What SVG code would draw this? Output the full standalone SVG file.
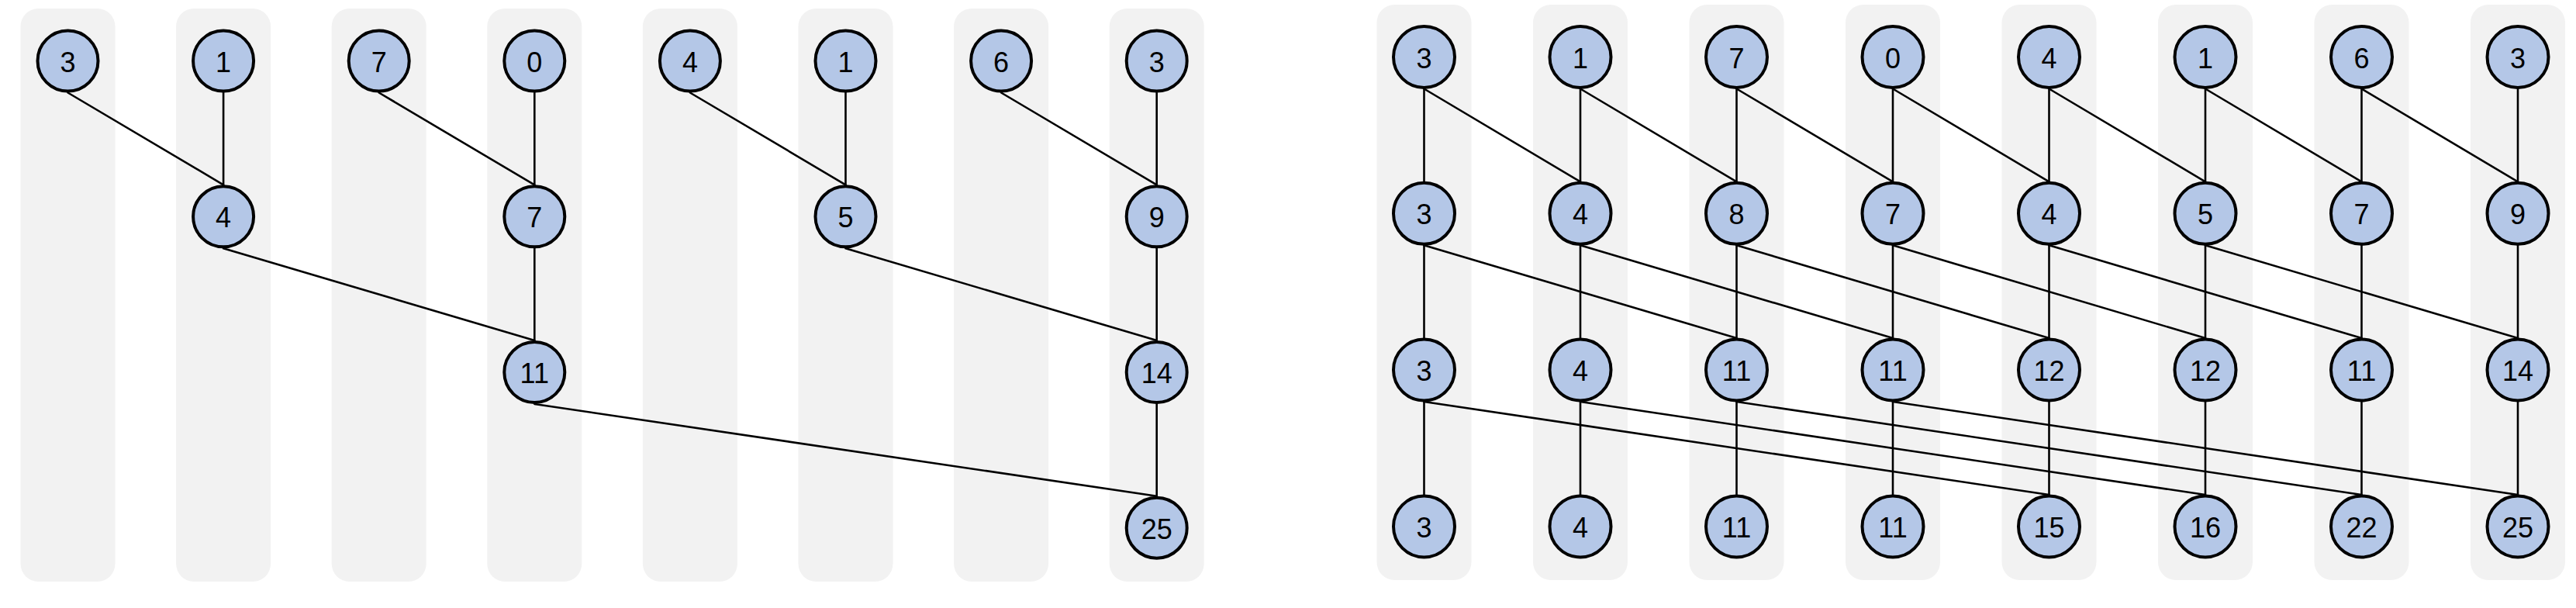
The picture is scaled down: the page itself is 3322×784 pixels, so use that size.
<svg xmlns="http://www.w3.org/2000/svg" width="3322" height="784" viewBox="0 0 3322 784">
<style>
.lane{fill:#F2F2F2;stroke:none}
.node circle{fill:#B4C7E7;stroke:#000;stroke-width:4}
.node text{font-family:"Liberation Sans",Arial,sans-serif;font-size:36px;fill:#000;text-anchor:middle}
.edges line{stroke:#000;stroke-width:2.6;stroke-linecap:round}
</style>
<rect width="3322" height="784" fill="#fff"/>
<g id="lanes">
<rect class="lane" x="26.5" y="11" width="122" height="739" rx="23"/>
<rect class="lane" x="227.1" y="11" width="122" height="739" rx="23"/>
<rect class="lane" x="427.7" y="11" width="122" height="739" rx="23"/>
<rect class="lane" x="628.3" y="11" width="122" height="739" rx="23"/>
<rect class="lane" x="828.9" y="11" width="122" height="739" rx="23"/>
<rect class="lane" x="1029.5" y="11" width="122" height="739" rx="23"/>
<rect class="lane" x="1230.1" y="11" width="122" height="739" rx="23"/>
<rect class="lane" x="1430.7" y="11" width="122" height="739" rx="23"/>
<rect class="lane" x="1775.5" y="6" width="122" height="742" rx="23"/>
<rect class="lane" x="1977" y="6" width="122" height="742" rx="23"/>
<rect class="lane" x="2178.5" y="6" width="122" height="742" rx="23"/>
<rect class="lane" x="2380" y="6" width="122" height="742" rx="23"/>
<rect class="lane" x="2581.5" y="6" width="122" height="742" rx="23"/>
<rect class="lane" x="2783" y="6" width="122" height="742" rx="23"/>
<rect class="lane" x="2984.5" y="6" width="122" height="742" rx="23"/>
<rect class="lane" x="3186" y="6" width="122" height="742" rx="23"/>
</g>
<g id="connectors" class="edges">
<!-- left: row1 -> row2 -->
<line x1="87.5" y1="119.5" x2="288.1" y2="238.3"/>
<line x1="288.1" y1="119.5" x2="288.1" y2="238.3"/>
<line x1="488.7" y1="119.5" x2="689.3" y2="238.3"/>
<line x1="689.3" y1="119.5" x2="689.3" y2="238.3"/>
<line x1="889.9" y1="119.5" x2="1090.5" y2="238.3"/>
<line x1="1090.5" y1="119.5" x2="1090.5" y2="238.3"/>
<line x1="1291.1" y1="119.5" x2="1491.7" y2="238.3"/>
<line x1="1491.7" y1="119.5" x2="1491.7" y2="238.3"/>
<!-- left: row2 -> row3 -->
<line x1="288.1" y1="320.3" x2="689.3" y2="439"/>
<line x1="689.3" y1="320.3" x2="689.3" y2="439"/>
<line x1="1090.5" y1="320.3" x2="1491.7" y2="439"/>
<line x1="1491.7" y1="320.3" x2="1491.7" y2="439"/>
<!-- left: row3 -> row4 -->
<line x1="689.3" y1="521" x2="1491.7" y2="639.7"/>
<line x1="1491.7" y1="521" x2="1491.7" y2="639.7"/>
<!-- right: row1 -> row2 -->
<line x1="1836.5" y1="114.5" x2="1836.5" y2="234.3"/>
<line x1="2038" y1="114.5" x2="2038" y2="234.3"/>
<line x1="2239.5" y1="114.5" x2="2239.5" y2="234.3"/>
<line x1="2441" y1="114.5" x2="2441" y2="234.3"/>
<line x1="2642.5" y1="114.5" x2="2642.5" y2="234.3"/>
<line x1="2844" y1="114.5" x2="2844" y2="234.3"/>
<line x1="3045.5" y1="114.5" x2="3045.5" y2="234.3"/>
<line x1="3247" y1="114.5" x2="3247" y2="234.3"/>
<line x1="1836.5" y1="114.5" x2="2038" y2="234.3"/>
<line x1="2038" y1="114.5" x2="2239.5" y2="234.3"/>
<line x1="2239.5" y1="114.5" x2="2441" y2="234.3"/>
<line x1="2441" y1="114.5" x2="2642.5" y2="234.3"/>
<line x1="2642.5" y1="114.5" x2="2844" y2="234.3"/>
<line x1="2844" y1="114.5" x2="3045.5" y2="234.3"/>
<line x1="3045.5" y1="114.5" x2="3247" y2="234.3"/>
<!-- right: row2 -> row3 -->
<line x1="1836.5" y1="316.3" x2="1836.5" y2="436"/>
<line x1="2038" y1="316.3" x2="2038" y2="436"/>
<line x1="2239.5" y1="316.3" x2="2239.5" y2="436"/>
<line x1="2441" y1="316.3" x2="2441" y2="436"/>
<line x1="2642.5" y1="316.3" x2="2642.5" y2="436"/>
<line x1="2844" y1="316.3" x2="2844" y2="436"/>
<line x1="3045.5" y1="316.3" x2="3045.5" y2="436"/>
<line x1="3247" y1="316.3" x2="3247" y2="436"/>
<line x1="1836.5" y1="316.3" x2="2239.5" y2="436"/>
<line x1="2038" y1="316.3" x2="2441" y2="436"/>
<line x1="2239.5" y1="316.3" x2="2642.5" y2="436"/>
<line x1="2441" y1="316.3" x2="2844" y2="436"/>
<line x1="2642.5" y1="316.3" x2="3045.5" y2="436"/>
<line x1="2844" y1="316.3" x2="3247" y2="436"/>
<!-- right: row3 -> row4 -->
<line x1="1836.5" y1="518" x2="1836.5" y2="638"/>
<line x1="2038" y1="518" x2="2038" y2="638"/>
<line x1="2239.5" y1="518" x2="2239.5" y2="638"/>
<line x1="2441" y1="518" x2="2441" y2="638"/>
<line x1="2642.5" y1="518" x2="2642.5" y2="638"/>
<line x1="2844" y1="518" x2="2844" y2="638"/>
<line x1="3045.5" y1="518" x2="3045.5" y2="638"/>
<line x1="3247" y1="518" x2="3247" y2="638"/>
<line x1="1836.5" y1="518" x2="2642.5" y2="638"/>
<line x1="2038" y1="518" x2="2844" y2="638"/>
<line x1="2239.5" y1="518" x2="3045.5" y2="638"/>
<line x1="2441" y1="518" x2="3247" y2="638"/>
</g>
<!-- left diagram nodes -->
<g id="L-r1-0" class="node"><circle cx="87.5" cy="78.5" r="39"/><text x="87.5" y="92.5">3</text></g>
<g id="L-r1-1" class="node"><circle cx="288.1" cy="78.5" r="39"/><text x="288.1" y="92.5">1</text></g>
<g id="L-r1-2" class="node"><circle cx="488.7" cy="78.5" r="39"/><text x="488.7" y="92.5">7</text></g>
<g id="L-r1-3" class="node"><circle cx="689.3" cy="78.5" r="39"/><text x="689.3" y="92.5">0</text></g>
<g id="L-r1-4" class="node"><circle cx="889.9" cy="78.5" r="39"/><text x="889.9" y="92.5">4</text></g>
<g id="L-r1-5" class="node"><circle cx="1090.5" cy="78.5" r="39"/><text x="1090.5" y="92.5">1</text></g>
<g id="L-r1-6" class="node"><circle cx="1291.1" cy="78.5" r="39"/><text x="1291.1" y="92.5">6</text></g>
<g id="L-r1-7" class="node"><circle cx="1491.7" cy="78.5" r="39"/><text x="1491.7" y="92.5">3</text></g>
<g id="L-r2-1" class="node"><circle cx="288.1" cy="279.3" r="39"/><text x="288.1" y="293.3">4</text></g>
<g id="L-r2-3" class="node"><circle cx="689.3" cy="279.3" r="39"/><text x="689.3" y="293.3">7</text></g>
<g id="L-r2-5" class="node"><circle cx="1090.5" cy="279.3" r="39"/><text x="1090.5" y="293.3">5</text></g>
<g id="L-r2-7" class="node"><circle cx="1491.7" cy="279.3" r="39"/><text x="1491.7" y="293.3">9</text></g>
<g id="L-r3-3" class="node"><circle cx="689.3" cy="480" r="39"/><text x="689.3" y="494">11</text></g>
<g id="L-r3-7" class="node"><circle cx="1491.7" cy="480" r="39"/><text x="1491.7" y="494">14</text></g>
<g id="L-r4-7" class="node"><circle cx="1491.7" cy="680.7" r="39"/><text x="1491.7" y="694.7">25</text></g>
<!-- right diagram nodes -->
<g id="R-r1-0" class="node"><circle cx="1836.5" cy="73.5" r="39.5"/><text x="1836.5" y="87.5">3</text></g>
<g id="R-r1-1" class="node"><circle cx="2038" cy="73.5" r="39.5"/><text x="2038" y="87.5">1</text></g>
<g id="R-r1-2" class="node"><circle cx="2239.5" cy="73.5" r="39.5"/><text x="2239.5" y="87.5">7</text></g>
<g id="R-r1-3" class="node"><circle cx="2441" cy="73.5" r="39.5"/><text x="2441" y="87.5">0</text></g>
<g id="R-r1-4" class="node"><circle cx="2642.5" cy="73.5" r="39.5"/><text x="2642.5" y="87.5">4</text></g>
<g id="R-r1-5" class="node"><circle cx="2844" cy="73.5" r="39.5"/><text x="2844" y="87.5">1</text></g>
<g id="R-r1-6" class="node"><circle cx="3045.5" cy="73.5" r="39.5"/><text x="3045.5" y="87.5">6</text></g>
<g id="R-r1-7" class="node"><circle cx="3247" cy="73.5" r="39.5"/><text x="3247" y="87.5">3</text></g>
<g id="R-r2-0" class="node"><circle cx="1836.5" cy="275.3" r="39.5"/><text x="1836.5" y="289.3">3</text></g>
<g id="R-r2-1" class="node"><circle cx="2038" cy="275.3" r="39.5"/><text x="2038" y="289.3">4</text></g>
<g id="R-r2-2" class="node"><circle cx="2239.5" cy="275.3" r="39.5"/><text x="2239.5" y="289.3">8</text></g>
<g id="R-r2-3" class="node"><circle cx="2441" cy="275.3" r="39.5"/><text x="2441" y="289.3">7</text></g>
<g id="R-r2-4" class="node"><circle cx="2642.5" cy="275.3" r="39.5"/><text x="2642.5" y="289.3">4</text></g>
<g id="R-r2-5" class="node"><circle cx="2844" cy="275.3" r="39.5"/><text x="2844" y="289.3">5</text></g>
<g id="R-r2-6" class="node"><circle cx="3045.5" cy="275.3" r="39.5"/><text x="3045.5" y="289.3">7</text></g>
<g id="R-r2-7" class="node"><circle cx="3247" cy="275.3" r="39.5"/><text x="3247" y="289.3">9</text></g>
<g id="R-r3-0" class="node"><circle cx="1836.5" cy="477" r="39.5"/><text x="1836.5" y="491">3</text></g>
<g id="R-r3-1" class="node"><circle cx="2038" cy="477" r="39.5"/><text x="2038" y="491">4</text></g>
<g id="R-r3-2" class="node"><circle cx="2239.5" cy="477" r="39.5"/><text x="2239.5" y="491">11</text></g>
<g id="R-r3-3" class="node"><circle cx="2441" cy="477" r="39.5"/><text x="2441" y="491">11</text></g>
<g id="R-r3-4" class="node"><circle cx="2642.5" cy="477" r="39.5"/><text x="2642.5" y="491">12</text></g>
<g id="R-r3-5" class="node"><circle cx="2844" cy="477" r="39.5"/><text x="2844" y="491">12</text></g>
<g id="R-r3-6" class="node"><circle cx="3045.5" cy="477" r="39.5"/><text x="3045.5" y="491">11</text></g>
<g id="R-r3-7" class="node"><circle cx="3247" cy="477" r="39.5"/><text x="3247" y="491">14</text></g>
<g id="R-r4-0" class="node"><circle cx="1836.5" cy="679" r="39.5"/><text x="1836.5" y="693">3</text></g>
<g id="R-r4-1" class="node"><circle cx="2038" cy="679" r="39.5"/><text x="2038" y="693">4</text></g>
<g id="R-r4-2" class="node"><circle cx="2239.5" cy="679" r="39.5"/><text x="2239.5" y="693">11</text></g>
<g id="R-r4-3" class="node"><circle cx="2441" cy="679" r="39.5"/><text x="2441" y="693">11</text></g>
<g id="R-r4-4" class="node"><circle cx="2642.5" cy="679" r="39.5"/><text x="2642.5" y="693">15</text></g>
<g id="R-r4-5" class="node"><circle cx="2844" cy="679" r="39.5"/><text x="2844" y="693">16</text></g>
<g id="R-r4-6" class="node"><circle cx="3045.5" cy="679" r="39.5"/><text x="3045.5" y="693">22</text></g>
<g id="R-r4-7" class="node"><circle cx="3247" cy="679" r="39.5"/><text x="3247" y="693">25</text></g>
</svg>
